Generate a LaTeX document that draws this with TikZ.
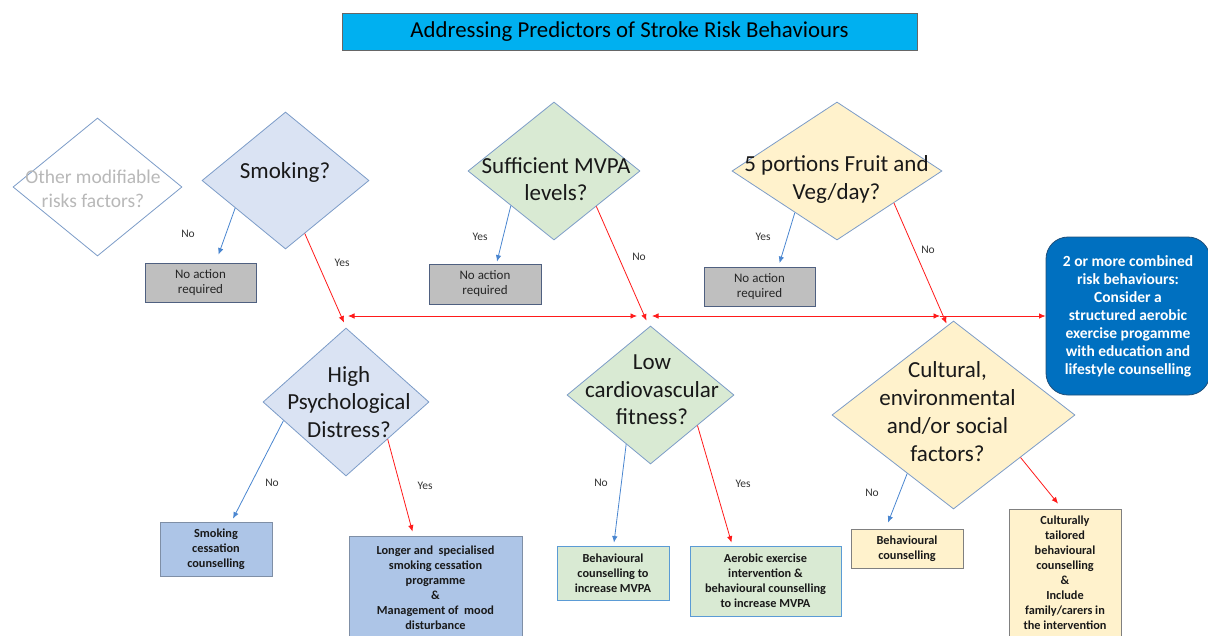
\documentclass[tikz,border=0pt]{standalone}
\usepackage{fontspec}
\setmainfont{Carlito}
\usetikzlibrary{shapes.geometric,arrows.meta,calc}
\definecolor{titleF}{HTML}{00B0F0}
\definecolor{diaB}{HTML}{7C9CC8}
\definecolor{blueF}{HTML}{DAE3F3}
\definecolor{greenF}{HTML}{D9EAD3}
\definecolor{yellowF}{HTML}{FFF2CC}
\definecolor{grayF}{HTML}{BFBFBF}
\definecolor{grayB}{HTML}{4F6080}
\definecolor{lbF}{HTML}{ADC5E7}
\definecolor{lbB}{HTML}{7F8FA6}
\definecolor{gbB}{HTML}{5B9BD5}
\definecolor{ybB}{HTML}{808080}
\definecolor{rbF}{HTML}{0070C0}
\definecolor{rbB}{HTML}{1F4E79}
\definecolor{arrBlue}{HTML}{4A86D0}
\definecolor{arrRed}{HTML}{FF1A1A}
\definecolor{othT}{HTML}{B8B8B8}
\begin{document}
\begin{tikzpicture}[x=1pt,y=-1pt,
  dia/.style={diamond, draw=diaB, line width=0.8pt, inner sep=0pt},
  qtext/.style={align=center, font=\fontsize{23}{27.5}\selectfont, text=black!90},
  rbox/.style={rectangle, line width=0.8pt, align=center, inner sep=0pt},
  nobox/.style={rbox, draw=grayB, fill=grayF, font=\fontsize{13}{15}\selectfont, text=black!85},
  bbox/.style={rbox, font=\bfseries\fontsize{12.3}{15}\selectfont, text=black!90},
  arrB/.style={draw=arrBlue, line width=0.8pt, -{Latex[length=6.5pt,width=5.5pt]}},
  arrR/.style={draw=arrRed, line width=0.8pt, -{Latex[length=6.5pt,width=5.5pt]}},
  arrRR/.style={draw=arrRed, line width=0.8pt, {Latex[length=6.5pt,width=5.5pt]}-{Latex[length=6.5pt,width=5.5pt]}},
  lab/.style={font=\fontsize{11.5}{13}\selectfont, text=black!80}]
\useasboundingbox (0,0) rectangle (1208,635);

% title
\node[rbox, draw=black!60, fill=titleF, minimum width=575pt, minimum height=37pt,
  font=\fontsize{22.8}{26}\selectfont] (title) at (629.5,31.5) {Addressing Predictors of Stroke Risk Behaviours};

% diamonds
\node[dia, fill=white, minimum width=169pt, minimum height=138pt] (oth) at (97.5,187) {};
\node[qtext, text=othT, font=\fontsize{19.5}{24}\selectfont] (othT) at (93,189) {Other modifiable\\risks factors?};
\node[dia, fill=blueF, minimum width=167pt, minimum height=137pt] (smk) at (285.5,180.5) {};
\node[qtext] (smkT) at (285,172) {Smoking?};
\node[dia, fill=greenF, minimum width=172pt, minimum height=138pt] (mvpa) at (554,171) {};
\node[qtext] (mvpaT) at (556,179) {Sufficient MVPA\\levels?};
\node[dia, fill=yellowF, minimum width=210pt, minimum height=138pt] (fv) at (837,171) {};
\node[qtext] (fvT) at (836.5,179.5) {5 portions Fruit and\\Veg/day?};
\node[dia, fill=blueF, minimum width=166pt, minimum height=148pt] (hpd) at (346,402) {};
\node[qtext] (hpdT) at (349,402) {High\\Psychological\\Distress?};
\node[dia, fill=greenF, minimum width=167pt, minimum height=138pt] (lcf) at (650.5,395) {};
\node[qtext] (lcfT) at (652,390) {Low\\cardiovascular\\fitness?};
\node[dia, fill=yellowF, minimum width=243pt, minimum height=188pt] (cef) at (953.5,415) {};
\node[qtext, font=\fontsize{23}{28}\selectfont] (cefT) at (947.5,411.5) {Cultural,\\environmental\\and/or social\\factors?};

% no action boxes
\node[nobox, minimum width=111pt, minimum height=39pt] (na1) at (200.5,282.5) {No action\\required};
\node[nobox, minimum width=112pt, minimum height=40pt] (na2) at (485,284) {No action\\required};
\node[nobox, minimum width=111pt, minimum height=39pt] (na3) at (759.5,287) {No action\\required};

% outcome boxes
\node[bbox, draw=lbB, fill=lbF, minimum width=112pt, minimum height=54pt] (scc) at (216,549) {Smoking\\cessation\\counselling};
\node[bbox, draw=lbB, fill=lbF, minimum width=173pt, minimum height=104pt] (lsc) at (435.5,588) {Longer and\ \ specialised\\smoking cessation\\programme\\\&\\Management of\ \ mood\\disturbance};
\node[bbox, draw=gbB, fill=greenF, minimum width=112pt, minimum height=54pt] (bcm) at (613,573) {Behavioural\\counselling to\\increase MVPA};
\node[bbox, draw=gbB, fill=greenF, minimum width=151pt, minimum height=70pt] (aei) at (765.5,581) {Aerobic exercise\\intervention \&\\behavioural counselling\\to increase MVPA};
\node[bbox, draw=ybB, fill=yellowF, minimum width=112pt, minimum height=39pt] (bc) at (907,548.5) {Behavioural\\counselling};
\node[bbox, draw=ybB, fill=yellowF, minimum width=112pt, minimum height=128pt] (ct) at (1065,573) {Culturally\\tailored\\behavioural\\counselling\\\&\\Include\\family/carers in\\the intervention};

% combined box
\node[rbox, draw=rbB, fill=rbF, rounded corners=22pt, minimum width=164pt, minimum height=158pt,
  text=white, font=\bfseries\fontsize{15.5}{18}\selectfont] (rb) at (1128,316) {2 or more combined\\risk behaviours:\\Consider a\\structured aerobic\\exercise progamme\\with education and\\lifestyle counselling};

% horizontal line
\coordinate (h1) at (348,316);
\coordinate (h2) at (637,316);
\coordinate (h3) at (652,316);
\coordinate (h4) at (940,316);
\draw[arrRR] (h1) -- (h2);
\draw[arrRR] (h3) -- (h4);
\draw[arrR] (h4) -- (rb.west);

% connectors
\draw[arrB] ($(smk.west)!0.4!(smk.south)$) -- ($(na1.north)+(18,-8)$);
\draw[arrR] ($(smk.south)!0.23!(smk.east)$) -- ($(hpd.north)+(-2,-5)$);
\draw[arrB] ($(mvpa.west)!0.5!(mvpa.south)$) -- ($(na2.north)+(12,-2)$);
\draw[arrR] ($(mvpa.south)!0.49!(mvpa.east)$) -- ($(lcf.north)+(-4,-5)$);
\draw[arrB] ($(fv.west)!0.6!(fv.south)$) -- ($(na3.north)+(20,-4)$);
\draw[arrR] ($(fv.south)!0.54!(fv.east)$) -- ($(cef.north)+(-7,3)$);
\draw[arrB] ($(hpd.west)!0.25!(hpd.south)$) -- ($(scc.north)+(17,-3)$);
\draw[arrR] ($(hpd.south)!0.5!(hpd.east)$) -- ($(lsc.north)+(-23,-4)$);
\draw[arrB] ($(lcf.west)!0.71!(lcf.south)$) -- ($(bcm.north)+(1,-3)$);
\draw[arrR] ($(lcf.south)!0.56!(lcf.east)$) -- ($(aei.north)+(-34,-3)$);
\draw[arrB] ($(cef.west)!0.62!(cef.south)$) -- ($(bc.north)+(-19,-6)$);
\draw[arrR] ($(cef.south)!0.55!(cef.east)$) -- ($(ct.north)+(-7,-5)$);

% labels
\node[lab] (l1) at (188,234) {No};
\node[lab] (l2) at (342,263) {Yes};
\node[lab] (l3) at (480,237) {Yes};
\node[lab] (l4) at (639,257) {No};
\node[lab] (l5) at (763,237) {Yes};
\node[lab] (l6) at (928,250) {No};
\node[lab] (l7) at (272,483) {No};
\node[lab] (l8) at (425,486) {Yes};
\node[lab] (l9) at (601,483) {No};
\node[lab] (l10) at (743,484) {Yes};
\node[lab] (l11) at (872,493) {No};
\end{tikzpicture}
\end{document}
